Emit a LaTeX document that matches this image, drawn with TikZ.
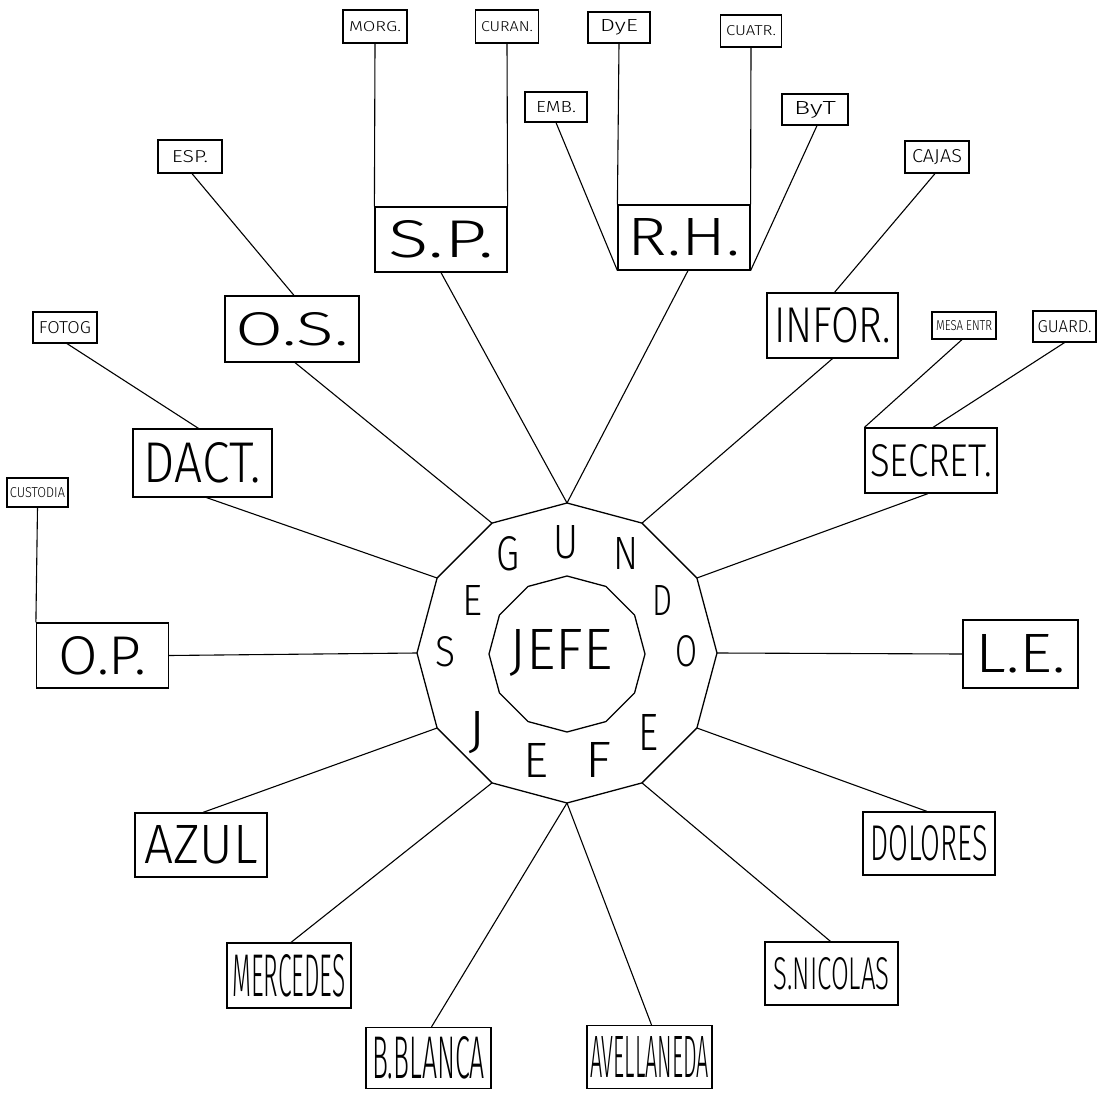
\documentclass[tikz,border=0pt]{standalone}
\usepackage{fontspec}
\setmainfont{Fira Sans Light}
\usepackage{graphicx}
\usetikzlibrary{calc}
\newcommand\fitt[3]{\resizebox{#1pt}{#2pt}{#3}}
\begin{document}
\begin{tikzpicture}[x=1pt,y=-1pt,
  box/.style={draw, line width=1.2pt, inner sep=0pt, rectangle},
  conn/.style={line width=1.1pt},
  ring/.style={line width=1.3pt}]
\useasboundingbox (0,0) rectangle (1098,1094);
% top group
\node[box, minimum width=64pt, minimum height=33pt] (morg) at (375,26.5) {\fitt{52}{10}{MORG.}};
\node[box, minimum width=63pt, minimum height=33pt] (curan) at (507,26.5) {\fitt{52}{10}{CURAN.}};
\node[box, minimum width=62pt, minimum height=31pt] (dye) at (619,27.5) {\fitt{38}{12}{DyE}};
\node[box, minimum width=61pt, minimum height=32pt] (cuatr) at (751,31) {\fitt{50}{10}{CUATR.}};
\node[box, minimum width=62pt, minimum height=30pt] (emb) at (556,107) {\fitt{40}{11}{EMB.}};
\node[box, minimum width=66pt, minimum height=31pt] (byt) at (815,109.5) {\fitt{42}{13}{ByT}};
\node[box, minimum width=132pt, minimum height=65pt] (sp) at (441,239.5) {\fitt{105}{37}{S.P.}};
\node[box, minimum width=132pt, minimum height=65pt] (rh) at (684,237.5) {\fitt{112}{37}{R.H.}};
% left group
\node[box, minimum width=64pt, minimum height=33pt] (esp) at (190,156.5) {\fitt{36}{12}{ESP.}};
\node[box, minimum width=134pt, minimum height=66pt] (os) at (292,329) {\fitt{113}{33}{O.S.}};
\node[box, minimum width=64pt, minimum height=31pt] (fotog) at (65,327.5) {\fitt{52}{12}{FOTOG}};
\node[box, minimum width=139pt, minimum height=68pt] (dact) at (202.5,463) {\fitt{117}{40}{DACT.}};
\node[box, minimum width=61pt, minimum height=29pt] (custodia) at (37.5,492.5) {\fitt{55}{10}{CUSTODIA}};
\node[box, minimum width=132pt, minimum height=65pt] (op) at (102.5,655.5) {\fitt{88}{38}{O.P.}};
\node[box, minimum width=132pt, minimum height=64pt] (azul) at (201,845) {\fitt{113}{38}{AZUL}};
% bottom group
\node[box, minimum width=124pt, minimum height=65pt] (merc) at (289,975.5) {\fitt{113}{42}{MERCEDES}};
\node[box, minimum width=125pt, minimum height=61pt] (bbl) at (428.5,1058) {\fitt{113}{42}{B.BLANCA}};
\node[box, minimum width=125pt, minimum height=63pt] (avel) at (649.5,1057) {\fitt{119}{41}{AVELLANEDA}};
\node[box, minimum width=133pt, minimum height=63pt] (snic) at (831.5,973.5) {\fitt{116}{32}{S.NICOLAS}};
\node[box, minimum width=132pt, minimum height=63pt] (dol) at (929,843.5) {\fitt{117}{35}{DOLORES}};
% right group
\node[box, minimum width=115pt, minimum height=68pt] (le) at (1020.5,654) {\fitt{90}{38}{L.E.}};
\node[box, minimum width=132pt, minimum height=65pt] (secret) at (931,460.5) {\fitt{122}{32}{SECRET.}};
\node[box, minimum width=64pt, minimum height=27pt] (mesa) at (964,325.5) {\fitt{56}{10}{MESA ENTR}};
\node[box, minimum width=63pt, minimum height=31pt] (guard) at (1064.5,326.5) {\fitt{54}{12}{GUARD.}};
\node[box, minimum width=131pt, minimum height=65pt] (infor) at (832.5,325.5) {\fitt{117}{35}{INFOR.}};
\node[box, minimum width=64pt, minimum height=32pt] (cajas) at (937,157) {\fitt{50}{13}{CAJAS}};
% central polygons
\coordinate (c) at (567,653);
\coordinate (ci) at (567,654);
\foreach \i in {0,...,11} {
  \coordinate (v\i) at ($(c)+({-30*\i}:150)$);
  \coordinate (w\i) at ($(ci)+({-30*\i}:78)$);
}
\draw[ring] (v0) \foreach \i in {1,...,11} { -- (v\i) } -- cycle;
\draw[ring] (w0) \foreach \i in {1,...,11} { -- (w\i) } -- cycle;
\node (jefe) at (561,653) {\fitt{103}{40}{JEFE}};
\node (l1) at (445,652) {\fitt{20}{30}{S}};
\node (l2) at (472,600) {\fitt{20}{30}{E}};
\node (l3) at (508,554) {\fitt{23}{34}{G}};
\node (l4) at (566,542) {\fitt{25}{33}{U}};
\node (l5) at (626,553) {\fitt{25}{32}{N}};
\node (l6) at (662,600) {\fitt{20}{30}{D}};
\node (l7) at (686,651) {\fitt{22}{31}{O}};
\node (l8) at (648,732) {\fitt{20}{36}{E}};
\node (l9) at (598,760) {\fitt{26}{35}{F}};
\node (l10) at (536,760) {\fitt{25}{34}{E}};
\node (l11) at (477,733) {\fitt{17}{36}{J}};
% connectors
\draw[conn] (v3) -- (sp.south);
\draw[conn] (v3) -- ([xshift=4pt]rh.south);
\draw[conn] (morg.south) -- (sp.north west);
\draw[conn] (curan.south) -- (sp.north east);
\draw[conn] (dye.south) -- (rh.north west);
\draw[conn] (cuatr.south) -- (rh.north east);
\draw[conn] (emb.south) -- (rh.south west);
\draw[conn] ([xshift=2pt]byt.south) -- (rh.south east);
\draw[conn] ([xshift=2pt]esp.south) -- ([xshift=2pt]os.north);
\draw[conn] ([xshift=3pt]os.south) -- (v4);
\draw[conn] ([xshift=2pt]fotog.south) -- ([xshift=-4pt]dact.north);
\draw[conn] ([xshift=4pt]dact.south) -- (v5);
\draw[conn] (custodia.south) -- (op.north west);
\draw[conn] (op.east) -- (v6);
\draw[conn] (v7) -- ([xshift=2pt]azul.north);
\draw[conn] (v8) -- ([xshift=2pt]merc.north);
\draw[conn] (v9) -- ([xshift=3pt]bbl.north);
\draw[conn] (v9) -- ([xshift=2pt]avel.north);
\draw[conn] (v10) -- ([xshift=-1pt]snic.north);
\draw[conn] (v11) -- ([xshift=-2pt]dol.north);
\draw[conn] (v0) -- (le.west);
\draw[conn] (v1) -- ([xshift=-3pt]secret.south);
\draw[conn] ([xshift=-2pt]mesa.south) -- (secret.north west);
\draw[conn] (guard.south) -- ([xshift=2pt]secret.north);
\draw[conn] (v2) -- (infor.south);
\draw[conn] ([xshift=-2pt]cajas.south) -- ([xshift=2pt]infor.north);
\end{tikzpicture}
\end{document}
